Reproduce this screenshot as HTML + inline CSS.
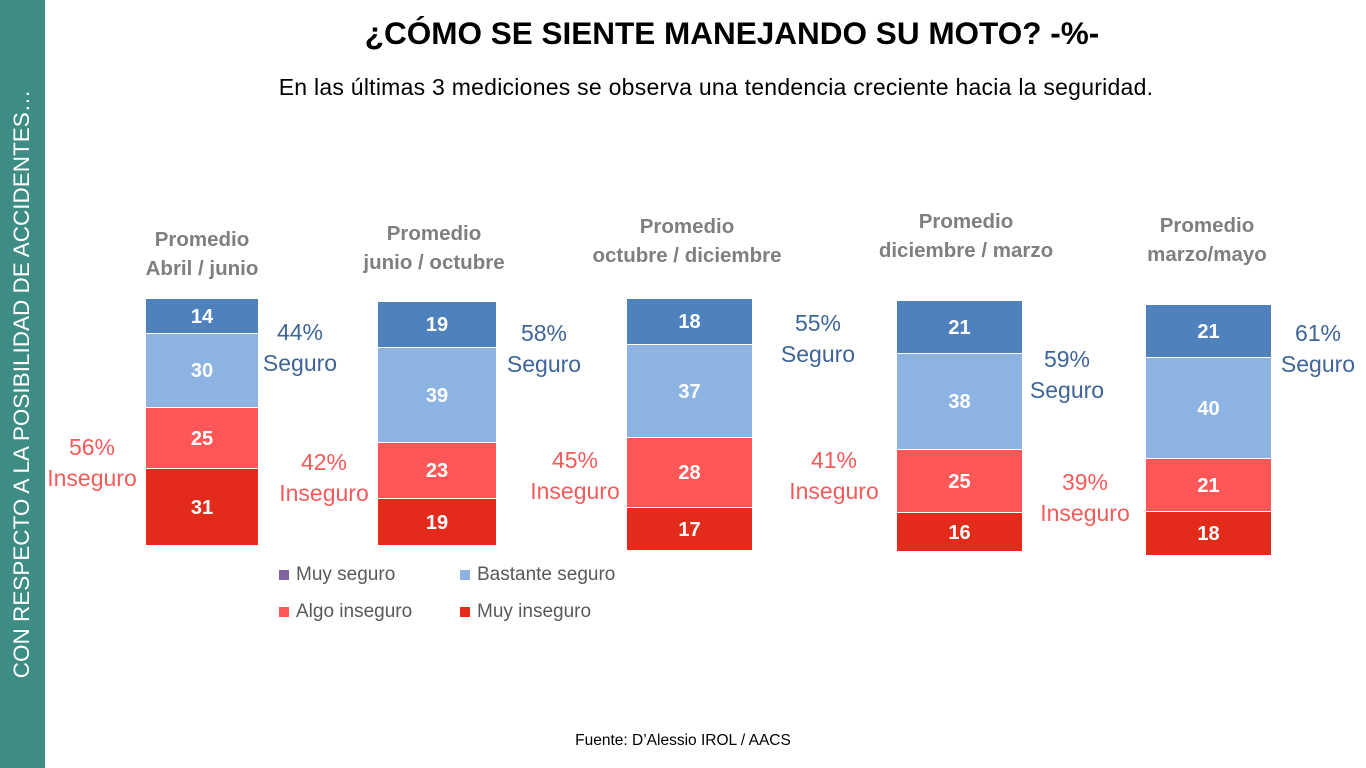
<!DOCTYPE html>
<html><head><meta charset="utf-8"><style>
body{margin:0;width:1366px;height:768px;position:relative;background:#fff;font-family:"Liberation Sans",sans-serif;overflow:hidden}
.a{position:absolute}
.side{left:0;top:0;width:45px;height:768px;background:#3e8d84}
.sidet{position:absolute;left:22px;top:384px;transform:translate(-50%,-50%) rotate(-90deg);white-space:nowrap;color:#fff;font-size:22.5px}
.seg{position:absolute;box-sizing:border-box;border:1px solid #fff;color:#fff;font-weight:bold;font-size:20px;display:flex;align-items:center;justify-content:center;padding-top:2px}
.d{background:#4f81bd}.l{background:#8db3e2}.p{background:#ff5757}.r{background:#e32b1c}
.hd{position:absolute;color:#7f7f7f;font-weight:bold;font-size:20.5px;text-align:center;line-height:29px;white-space:nowrap}
.s{position:absolute;color:#3f6598;font-size:23px;text-align:center;line-height:31px}
.i{position:absolute;color:#f55a5a;font-size:23px;text-align:center;line-height:31px}
.lg{position:absolute;color:#595959;font-size:19px}
.lg span{display:inline-block;width:10px;height:10px;margin-right:7px}
</style></head><body>
<div class="a side"><div class="sidet">CON RESPECTO A LA POSIBILIDAD DE ACCIDENTES…</div></div>
<div class="a" style="left:0;width:1464px;top:15px;text-align:center;font-weight:bold;font-size:31.5px;color:#000">¿CÓMO SE SIENTE MANEJANDO SU MOTO? -%-</div>
<div class="a" style="left:0;width:1432px;top:74px;text-align:center;font-size:23px;letter-spacing:0.25px;color:#000">En las últimas 3 mediciones se observa una tendencia creciente hacia la seguridad.</div>

<div class="hd" style="left:122px;width:160px;top:225px">Promedio<br>Abril / junio</div>
<div class="hd" style="left:354px;width:160px;top:219px">Promedio<br>junio / octubre</div>
<div class="hd" style="left:587px;width:200px;top:212px">Promedio<br>octubre / diciembre</div>
<div class="hd" style="left:866px;width:200px;top:207px">Promedio<br>diciembre / marzo</div>
<div class="hd" style="left:1127px;width:160px;top:211px">Promedio<br>marzo/mayo</div>

<div class="seg d" style="left:145px;width:114px;top:298px;height:36px">14</div>
<div class="seg l" style="left:145px;width:114px;top:333px;height:75px">30</div>
<div class="seg p" style="left:145px;width:114px;top:407px;height:62px">25</div>
<div class="seg r" style="left:145px;width:114px;top:468px;height:78px">31</div>

<div class="seg d" style="left:377px;width:120px;top:301px;height:47px">19</div>
<div class="seg l" style="left:377px;width:120px;top:347px;height:96px">39</div>
<div class="seg p" style="left:377px;width:120px;top:442px;height:57px">23</div>
<div class="seg r" style="left:377px;width:120px;top:498px;height:48px">19</div>

<div class="seg d" style="left:626px;width:127px;top:298px;height:47px">18</div>
<div class="seg l" style="left:626px;width:127px;top:344px;height:94px">37</div>
<div class="seg p" style="left:626px;width:127px;top:437px;height:71px">28</div>
<div class="seg r" style="left:626px;width:127px;top:507px;height:44px">17</div>

<div class="seg d" style="left:896px;width:127px;top:300px;height:54px">21</div>
<div class="seg l" style="left:896px;width:127px;top:353px;height:97px">38</div>
<div class="seg p" style="left:896px;width:127px;top:449px;height:64px">25</div>
<div class="seg r" style="left:896px;width:127px;top:512px;height:40px">16</div>

<div class="seg d" style="left:1145px;width:127px;top:304px;height:54px">21</div>
<div class="seg l" style="left:1145px;width:127px;top:357px;height:102px">40</div>
<div class="seg p" style="left:1145px;width:127px;top:458px;height:54px">21</div>
<div class="seg r" style="left:1145px;width:127px;top:511px;height:45px">18</div>

<div class="s" style="left:250px;width:100px;top:317px">44%<br>Seguro</div>
<div class="s" style="left:494px;width:100px;top:318px">58%<br>Seguro</div>
<div class="s" style="left:768px;width:100px;top:308px">55%<br>Seguro</div>
<div class="s" style="left:1017px;width:100px;top:344px">59%<br>Seguro</div>
<div class="s" style="left:1268px;width:100px;top:318px">61%<br>Seguro</div>

<div class="i" style="left:42px;width:100px;top:432px">56%<br>Inseguro</div>
<div class="i" style="left:274px;width:100px;top:447px">42%<br>Inseguro</div>
<div class="i" style="left:525px;width:100px;top:445px">45%<br>Inseguro</div>
<div class="i" style="left:784px;width:100px;top:445px">41%<br>Inseguro</div>
<div class="i" style="left:1035px;width:100px;top:467px">39%<br>Inseguro</div>

<div class="lg" style="left:279px;top:564px"><span style="background:#8064a2"></span>Muy seguro</div>
<div class="lg" style="left:460px;top:564px"><span style="background:#8db3e2"></span>Bastante seguro</div>
<div class="lg" style="left:279px;top:601px"><span style="background:#ff5757"></span>Algo inseguro</div>
<div class="lg" style="left:460px;top:601px"><span style="background:#e32b1c"></span>Muy inseguro</div>

<div class="a" style="left:0;width:1366px;top:732px;text-align:center;font-size:15.5px;color:#000">Fuente: D’Alessio IROL / AACS</div>
</body></html>
